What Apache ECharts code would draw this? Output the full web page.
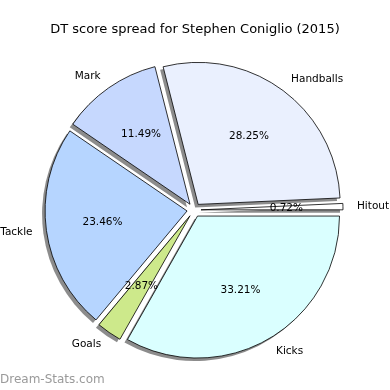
<!DOCTYPE html>
<html><head><meta charset="utf-8">
<script src="https://cdn.jsdelivr.net/npm/echarts@6/dist/echarts.min.js"></script>
<style>html,body{margin:0;padding:0;background:#fff}#c{width:390px;height:390px}</style>
</head><body><div id="c"></div>
<script>
const categories = ['Hitout', 'Handballs', 'Mark', 'Tackle', 'Goals', 'Kicks'];
const percents = [0.72, 28.25, 11.49, 23.46, 2.87, 33.21];
const colors = ['#ffffff', '#eaf0fe', '#c6d8fe', '#b6d5ff', '#cde98b', '#daffff'];

const chart = echarts.init(document.getElementById('c'), null, {renderer: 'canvas'});
const font = 'DejaVu Sans';
const R = 142, OFF = 7, CENTER = [194, 210];
const SHADOW_CENTER = [CENTER[0] - 3, CENTER[1] + 3];

const mainData = categories.map((c, i) => ({
  name: c, value: percents[i], selected: true,
  itemStyle: {color: colors[i]}
}));
const plainData = categories.map((c, i) => ({
  name: c, value: percents[i], selected: true
}));

const common = {type: 'pie', startAngle: 0, clockwise: false, selectedMode: 'multiple',
  selectedOffset: OFF, avoidLabelOverlap: false, emphasis: {disabled: true}, silent: true};

chart.setOption({
  animation: false,
  backgroundColor: '#fff',
  title: [
    {text: 'DT score spread for Stephen Coniglio (2015)', left: 'center', top: 18,
     textStyle: {fontFamily: font, fontSize: 13, fontWeight: 'normal', color: '#000'}},
    {text: 'Dream-Stats.com', left: 0, top: 374, padding: 0,
     textStyle: {fontFamily: font, fontSize: 12, fontWeight: 'normal', color: '#9a9a9a'}}
  ],
  series: [
    Object.assign({}, common, {
      center: SHADOW_CENTER, radius: [0, R],
      itemStyle: {color: 'rgba(0,0,0,0.45)', borderWidth: 0},
      label: {show: false}, labelLine: {show: false},
      data: plainData.map(d => Object.assign({}, d))
    }),
    Object.assign({}, common, {
      center: CENTER, radius: [0, R],
      itemStyle: {borderColor: '#000', borderWidth: 0.8},
      label: {show: true, position: 'outside', formatter: '{b}', fontFamily: font, fontSize: 10.5,
        color: '#000', padding: [7, 0, 0, 0]},
      labelLine: {show: false, length: 14, length2: -5},
      data: mainData
    }),
    Object.assign({}, common, {
      center: CENTER, radius: [0, R * 1.16],
      itemStyle: {color: 'rgba(0,0,0,0)', borderWidth: 0},
      label: {show: true, position: 'inside', formatter: p => p.value.toFixed(2) + '%', fontFamily: font,
        fontSize: 10.5, color: '#000', padding: [8, 0, 0, 0]},
      labelLine: {show: false},
      data: plainData.map(d => Object.assign({}, d))
    })
  ]
});
</script></body></html>
